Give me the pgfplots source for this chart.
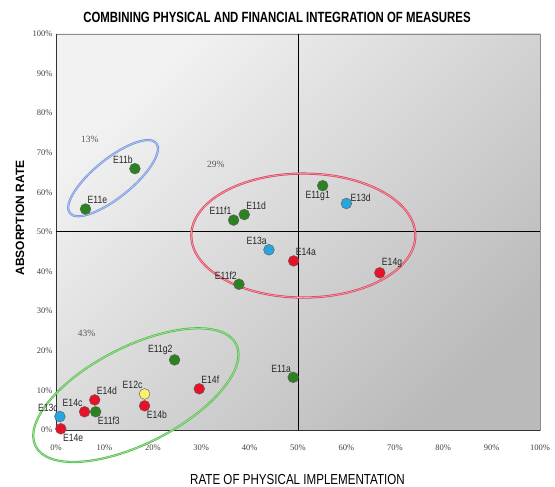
\documentclass[border=0pt]{standalone}
\usepackage{fontspec}
\setmainfont{Liberation Sans}
\newfontfamily\seriffont{Liberation Serif}
\newfontfamily\condfont[FakeStretch=0.77]{Liberation Sans}
\newfontfamily\xlabfont[FakeStretch=0.8]{Liberation Sans}
\newfontfamily\lblfont[FakeStretch=0.82]{Liberation Sans}
\usepackage{pgfplots}
\pgfplotsset{compat=1.18}

\definecolor{dgreen}{RGB}{44,130,34}
\definecolor{dred}{RGB}{232,18,40}
\definecolor{dblue}{RGB}{40,165,220}
\definecolor{dyellow}{RGB}{248,240,110}
\definecolor{ellblue}{RGB}{115,150,225}
\definecolor{ellred}{RGB}{222,70,95}
\definecolor{ellgreen}{RGB}{85,190,75}

\pgfplotsset{
  pt/.style n args={3}{only marks, mark=*, mark size=5.4pt,
    mark options={fill=#1, draw=black!65, line width=0.4pt},
    nodes near coords, point meta=explicit symbolic,
    every node near coord/.append style={anchor=#2, font=\lblfont\fontsize{10.5}{11}\selectfont, text=black!85, inner sep=2pt, #3}}
}

\begin{document}
\begin{tikzpicture}
\begin{axis}[
  width=484pt, height=396pt, scale only axis,
  xmin=0, xmax=100, ymin=0, ymax=100,
  clip=false,
  axis line style={draw=black!45, line width=0.8pt},
  axis background/.style={shade, top color=black!5, bottom color=black!27, shading angle=45},
  xtick={0,10,...,100}, ytick={0,10,...,100},
  xticklabels={0\%,10\%,20\%,30\%,40\%,50\%,60\%,70\%,80\%,90\%,100\%},
  yticklabels={0\%,10\%,20\%,30\%,40\%,50\%,60\%,70\%,80\%,90\%,100\%},
  major tick length=0pt,
  xticklabel style={font=\seriffont\fontsize{8.5}{9}\selectfont, text=black!75, yshift=-11pt},
  yticklabel style={font=\seriffont\fontsize{8.5}{9}\selectfont, text=black!75},
]
% frame left/bottom darker
\draw[black!80, line width=0.8pt] (rel axis cs:0,1) -- (rel axis cs:0,0) -- (rel axis cs:1,0);
% quadrant lines
\draw[black, line width=1pt] (axis cs:50,0) -- (axis cs:50,100);
\draw[black, line width=1pt] (axis cs:0,50) -- (axis cs:100,50);
% ellipses
\draw[ellblue, line width=0.8pt, double=ellblue!45!white, double distance=0.6pt, rotate around={39:(axis cs:11.8,63.6)}] (axis cs:11.8,63.6) ellipse [x radius=55.6pt, y radius=19.3pt];
\draw[ellred, line width=0.8pt, double=ellred!45!white, double distance=0.6pt] (axis cs:51.1,49.1) ellipse [x radius=112pt, y radius=62pt];
\draw[ellgreen, line width=0.8pt, double=ellgreen!45!white, double distance=0.6pt, rotate around={27:(axis cs:16.5,8.8)}] (axis cs:16.5,8.8) ellipse [x radius=112.5pt, y radius=48.4pt];
% percent annotations
\node[font=\seriffont\fontsize{9.5}{11}\selectfont, text=black!65] at (axis cs:7.0,73.4) {13\%};
\node[font=\seriffont\fontsize{9.5}{11}\selectfont, text=black!65] at (axis cs:33.0,67.1) {29\%};
\node[font=\seriffont\fontsize{9.5}{11}\selectfont, text=black!65] at (axis cs:6.3,24.4) {43\%};

% green (E11)
\addplot[pt={dgreen}{south east}{yshift=3pt}] coordinates {(16.3,66.0)[E11b] (36.7,53.0)[E11f1] (37.8,36.8)[E11f2] (24.5,17.7)[E11g2] (49.0,13.3)[E11a]};
\addplot[pt={dgreen}{south west}{yshift=3pt}] coordinates {(6.1,55.8)[E11e] (38.9,54.4)[E11d]};
\addplot[pt={dgreen}{north}{yshift=-3pt, xshift=-5pt}] coordinates {(55.1,61.7)[E11g1]};
\addplot[pt={dgreen}{north west}{yshift=-3pt}] coordinates {(8.2,4.6)[E11f3]};
% red (E14)
\addplot[pt={dred}{south west}{yshift=3pt}] coordinates {(49.1,42.7)[E14a] (66.9,39.7)[E14g] (29.6,10.4)[E14f] (8.0,7.6)[E14d]};
\addplot[pt={dred}{north west}{yshift=-3pt}] coordinates {(18.3,6.1)[E14b] (1.0,0.3)[E14e]};
\addplot[pt={dred}{south east}{yshift=3pt}] coordinates {(5.9,4.6)[E14c]};
% blue (E13)
\addplot[pt={dblue}{south west}{xshift=2pt}] coordinates {(60.0,57.2)[E13d]};
\addplot[pt={dblue}{south east}{yshift=3pt}] coordinates {(44.0,45.5)[E13a] (0.8,3.4)[E13c]};
% yellow (E12)
\addplot[pt={dyellow}{south east}{yshift=3pt}] coordinates {(18.3,9.1)[E12c]};
\end{axis}
\node[font=\condfont\bfseries\fontsize{14.8}{16}\selectfont] at ([shift={(221pt,413pt)}]current axis.south west) {COMBINING PHYSICAL AND FINANCIAL INTEGRATION OF MEASURES};
\node[font=\bfseries\fontsize{12}{14}\selectfont, rotate=90] at ([shift={(-36pt,212pt)}]current axis.south west) {ABSORPTION RATE};
\node[font=\xlabfont\fontsize{14.5}{16}\selectfont] at ([shift={(241.5pt,-50pt)}]current axis.south west) {RATE OF PHYSICAL IMPLEMENTATION};
\pgfresetboundingbox
\path[use as bounding box] ([shift={(-56pt,-57pt)}]current axis.south west) rectangle ([shift={(15pt,34pt)}]current axis.north east);
\end{tikzpicture}
\end{document}
